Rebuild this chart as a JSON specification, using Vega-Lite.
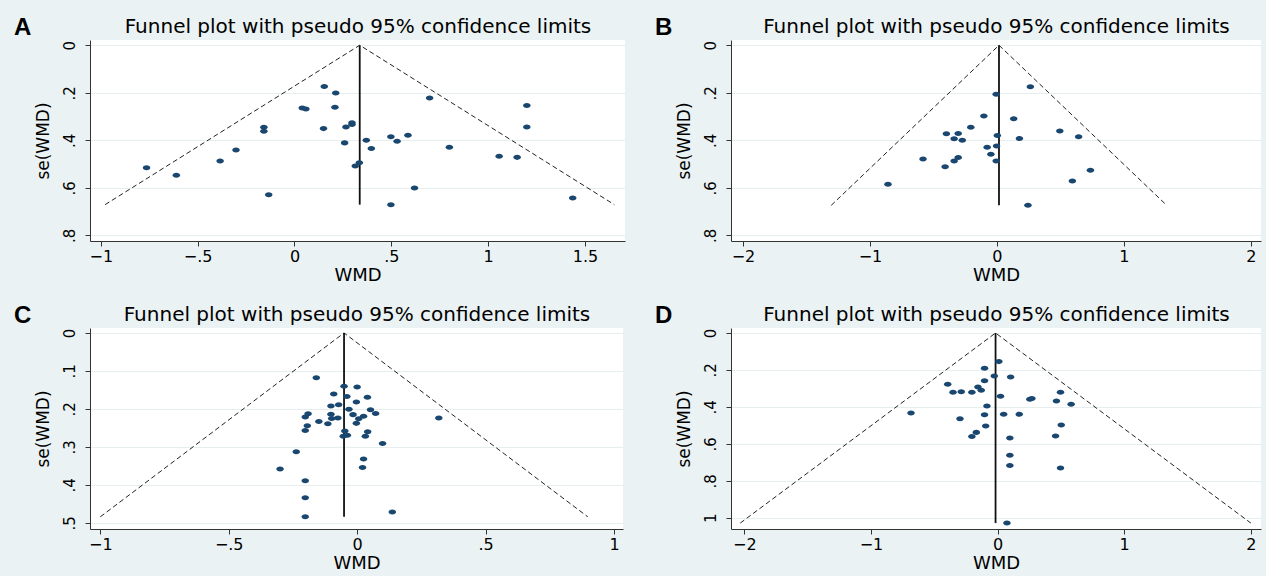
{
  "$schema": "https://vega.github.io/schema/vega-lite/v6.json",
  "background": "#eaf2f3",
  "padding": {"left": 13, "top": 16, "right": 5, "bottom": 5},
  "columns": 2,
  "spacing": {"row": 20, "column": 30},
  "config": {
    "font": "DejaVu Sans",
    "view": {"stroke": null, "fill": "white"},
    "axis": {"domainColor": "#333", "tickColor": "#333", "labelColor": "#000", "titleColor": "#000", "labelFontSize": 15, "titleFontSize": 17, "titleFontWeight": "normal", "tickSize": 5, "gridColor": "#e6eef0", "gridWidth": 1.2},
    "axisX": {"labelPadding": 2, "titlePadding": 2, "labelFontSize": 16},
    "axisY": {"labelPadding": 8, "titlePadding": 10},
    "title": {"fontSize": 24, "fontWeight": "bold", "anchor": "start", "frame": "bounds", "color": "#000", "font": "Liberation Sans"}
  },
  "concat": [
    {
      "width": 535, "height": 201,
      "title": {"text": "A", "dx": -20, "offset": -24},
      "resolve": {"axis": {"x": "independent"}},
      "layer": [
        {
          "data": {"values": [{"wmd": -0.978, "se": 0.671, "o": 1}, {"wmd": 0.337, "se": 0, "o": 2}, {"wmd": 1.652, "se": 0.671, "o": 3}]},
          "mark": {"type": "line", "color": "#222", "strokeWidth": 1, "strokeDash": [5, 3]},
          "encoding": {
            "x": {"field": "wmd", "type": "quantitative", "scale": {"domain": [-1.056, 1.707], "nice": false, "zero": false}, "axis": {"values": [-1, -0.5, 0, 0.5, 1, 1.5], "title": "WMD", "grid": false, "titleFontSize": 18, "labelExpr": "replace(format(datum.value, '~g'), '0.', '.')"}},
            "y": {"field": "se", "type": "quantitative", "title": "se(WMD)", "scale": {"domain": [-0.022, 0.824], "reverse": true, "nice": false, "zero": false}, "axis": {"values": [0, 0.2, 0.4, 0.6, 0.8], "grid": true, "labelAngle": -90, "labelExpr": "replace(format(datum.value, '~g'), '0.', '.')"}},
            "order": {"field": "o", "type": "quantitative"}
          }
        },
        {
          "data": {"values": [{"wmd": 0.337, "se": 0, "se2": 0.671}]},
          "mark": {"type": "rule", "color": "#111", "strokeWidth": 1.8},
          "encoding": {
            "x": {"field": "wmd", "type": "quantitative", "axis": {"orient": "top", "title": "Funnel plot with pseudo 95% confidence limits", "labels": false, "ticks": false, "domain": false, "grid": false, "titleFontSize": 20, "titlePadding": 4}},
            "y": {"field": "se", "type": "quantitative", "title": "se(WMD)"},
            "y2": {"field": "se2"}
          }
        },
        {
          "data": {"values": [
            {"wmd": -0.764, "se": 0.516}, {"wmd": -0.610, "se": 0.547}, {"wmd": -0.384, "se": 0.487}, {"wmd": -0.302, "se": 0.441},
            {"wmd": -0.158, "se": 0.345}, {"wmd": -0.158, "se": 0.362}, {"wmd": -0.133, "se": 0.629}, {"wmd": 0.040, "se": 0.264},
            {"wmd": 0.059, "se": 0.268}, {"wmd": 0.150, "se": 0.351}, {"wmd": 0.154, "se": 0.174}, {"wmd": 0.209, "se": 0.261},
            {"wmd": 0.213, "se": 0.201}, {"wmd": 0.259, "se": 0.411}, {"wmd": 0.266, "se": 0.344}, {"wmd": 0.297, "se": 0.326},
            {"wmd": 0.297, "se": 0.334}, {"wmd": 0.314, "se": 0.508}, {"wmd": 0.335, "se": 0.495}, {"wmd": 0.371, "se": 0.400},
            {"wmd": 0.397, "se": 0.435}, {"wmd": 0.498, "se": 0.385}, {"wmd": 0.498, "se": 0.671}, {"wmd": 0.530, "se": 0.404},
            {"wmd": 0.586, "se": 0.379}, {"wmd": 0.620, "se": 0.601}, {"wmd": 0.698, "se": 0.222}, {"wmd": 0.800, "se": 0.429},
            {"wmd": 1.057, "se": 0.467}, {"wmd": 1.150, "se": 0.472}, {"wmd": 1.200, "se": 0.254}, {"wmd": 1.200, "se": 0.344},
            {"wmd": 1.437, "se": 0.643}
          ]},
          "mark": {"type": "point", "filled": true, "shape": "M-1,0A1,0.67,0,1,0,1,0A1,0.67,0,1,0,-1,0Z", "size": 56, "color": "#1a476f", "opacity": 1},
          "encoding": {
            "x": {"field": "wmd", "type": "quantitative", "axis": null},
            "y": {"field": "se", "type": "quantitative", "title": "se(WMD)"}
          }
        }
      ]
    },
    {
      "width": 530, "height": 201,
      "title": {"text": "B", "dx": -20, "offset": -24},
      "resolve": {"axis": {"x": "independent"}},
      "layer": [
        {
          "data": {"values": [{"wmd": -1.305, "se": 0.674, "o": 1}, {"wmd": 0.016, "se": 0, "o": 2}, {"wmd": 1.337, "se": 0.674, "o": 3}]},
          "mark": {"type": "line", "color": "#222", "strokeWidth": 1, "strokeDash": [5, 3]},
          "encoding": {
            "x": {"field": "wmd", "type": "quantitative", "scale": {"domain": [-2.094, 2.079], "nice": false, "zero": false}, "axis": {"values": [-2, -1, 0, 1, 2], "title": "WMD", "grid": false, "titleFontSize": 18, "labelExpr": "replace(format(datum.value, '~g'), '0.', '.')"}},
            "y": {"field": "se", "type": "quantitative", "title": "se(WMD)", "scale": {"domain": [-0.022, 0.824], "reverse": true, "nice": false, "zero": false}, "axis": {"values": [0, 0.2, 0.4, 0.6, 0.8], "grid": true, "labelAngle": -90, "labelExpr": "replace(format(datum.value, '~g'), '0.', '.')"}},
            "order": {"field": "o", "type": "quantitative"}
          }
        },
        {
          "data": {"values": [{"wmd": 0.016, "se": 0, "se2": 0.674}]},
          "mark": {"type": "rule", "color": "#111", "strokeWidth": 1.8},
          "encoding": {
            "x": {"field": "wmd", "type": "quantitative", "axis": {"orient": "top", "title": "Funnel plot with pseudo 95% confidence limits", "labels": false, "ticks": false, "domain": false, "grid": false, "titleFontSize": 20, "titlePadding": 4}},
            "y": {"field": "se", "type": "quantitative", "title": "se(WMD)"},
            "y2": {"field": "se2"}
          }
        },
        {
          "data": {"values": [
            {"wmd": 0.263, "se": 0.175}, {"wmd": -0.006, "se": 0.206}, {"wmd": -0.103, "se": 0.298}, {"wmd": 0.132, "se": 0.309},
            {"wmd": -0.206, "se": 0.345}, {"wmd": 0.495, "se": 0.361}, {"wmd": -0.398, "se": 0.373}, {"wmd": -0.305, "se": 0.372},
            {"wmd": 0.003, "se": 0.380}, {"wmd": 0.643, "se": 0.385}, {"wmd": -0.337, "se": 0.394}, {"wmd": -0.273, "se": 0.400},
            {"wmd": 0.177, "se": 0.393}, {"wmd": -0.077, "se": 0.429}, {"wmd": -0.003, "se": 0.424}, {"wmd": -0.048, "se": 0.459},
            {"wmd": -0.582, "se": 0.479}, {"wmd": -0.305, "se": 0.473}, {"wmd": -0.337, "se": 0.487}, {"wmd": -0.006, "se": 0.487},
            {"wmd": -0.408, "se": 0.511}, {"wmd": 0.736, "se": 0.526}, {"wmd": 0.594, "se": 0.571}, {"wmd": -0.858, "se": 0.585},
            {"wmd": 0.244, "se": 0.674}
          ]},
          "mark": {"type": "point", "filled": true, "shape": "M-1,0A1,0.67,0,1,0,1,0A1,0.67,0,1,0,-1,0Z", "size": 56, "color": "#1a476f", "opacity": 1},
          "encoding": {
            "x": {"field": "wmd", "type": "quantitative", "axis": null},
            "y": {"field": "se", "type": "quantitative", "title": "se(WMD)"}
          }
        }
      ]
    },
    {
      "width": 533, "height": 201,
      "title": {"text": "C", "dx": -20, "offset": -24},
      "resolve": {"axis": {"x": "independent"}},
      "layer": [
        {
          "data": {"values": [{"wmd": -1.0, "se": 0.484, "o": 1}, {"wmd": -0.051, "se": 0, "o": 2}, {"wmd": 0.898, "se": 0.484, "o": 3}]},
          "mark": {"type": "line", "color": "#222", "strokeWidth": 1, "strokeDash": [5, 3]},
          "encoding": {
            "x": {"field": "wmd", "type": "quantitative", "scale": {"domain": [-1.040, 1.035], "nice": false, "zero": false}, "axis": {"values": [-1, -0.5, 0, 0.5, 1], "title": "WMD", "grid": false, "titleFontSize": 18, "labelExpr": "replace(format(datum.value, '~g'), '0.', '.')"}},
            "y": {"field": "se", "type": "quantitative", "title": "se(WMD)", "scale": {"domain": [-0.013, 0.516], "reverse": true, "nice": false, "zero": false}, "axis": {"values": [0, 0.1, 0.2, 0.3, 0.4, 0.5], "grid": true, "labelAngle": -90, "labelExpr": "replace(format(datum.value, '~g'), '0.', '.')"}},
            "order": {"field": "o", "type": "quantitative"}
          }
        },
        {
          "data": {"values": [{"wmd": -0.051, "se": 0, "se2": 0.484}]},
          "mark": {"type": "rule", "color": "#111", "strokeWidth": 1.8},
          "encoding": {
            "x": {"field": "wmd", "type": "quantitative", "axis": {"orient": "top", "title": "Funnel plot with pseudo 95% confidence limits", "labels": false, "ticks": false, "domain": false, "grid": false, "titleFontSize": 20, "titlePadding": 4}},
            "y": {"field": "se", "type": "quantitative", "title": "se(WMD)"},
            "y2": {"field": "se2"}
          }
        },
        {
          "data": {"values": [
            {"wmd": -0.159, "se": 0.118}, {"wmd": -0.051, "se": 0.140}, {"wmd": 0.0, "se": 0.142}, {"wmd": -0.091, "se": 0.161},
            {"wmd": -0.040, "se": 0.167}, {"wmd": 0.040, "se": 0.169}, {"wmd": -0.003, "se": 0.182}, {"wmd": -0.102, "se": 0.192},
            {"wmd": -0.072, "se": 0.189}, {"wmd": -0.032, "se": 0.201}, {"wmd": 0.052, "se": 0.202}, {"wmd": -0.016, "se": 0.215},
            {"wmd": 0.072, "se": 0.212}, {"wmd": -0.102, "se": 0.214}, {"wmd": 0.025, "se": 0.219}, {"wmd": -0.191, "se": 0.213},
            {"wmd": -0.202, "se": 0.221}, {"wmd": -0.099, "se": 0.225}, {"wmd": -0.075, "se": 0.224}, {"wmd": 0.006, "se": 0.226},
            {"wmd": 0.318, "se": 0.224}, {"wmd": -0.149, "se": 0.233}, {"wmd": -0.003, "se": 0.238}, {"wmd": -0.114, "se": 0.239},
            {"wmd": -0.194, "se": 0.244}, {"wmd": -0.202, "se": 0.257}, {"wmd": -0.048, "se": 0.258}, {"wmd": 0.041, "se": 0.260},
            {"wmd": -0.038, "se": 0.269}, {"wmd": -0.054, "se": 0.272}, {"wmd": 0.032, "se": 0.272}, {"wmd": 0.099, "se": 0.291},
            {"wmd": -0.237, "se": 0.313}, {"wmd": 0.025, "se": 0.332}, {"wmd": 0.021, "se": 0.354}, {"wmd": -0.300, "se": 0.358},
            {"wmd": -0.202, "se": 0.389}, {"wmd": -0.202, "se": 0.434}, {"wmd": 0.137, "se": 0.471}, {"wmd": -0.202, "se": 0.484}
          ]},
          "mark": {"type": "point", "filled": true, "shape": "M-1,0A1,0.67,0,1,0,1,0A1,0.67,0,1,0,-1,0Z", "size": 56, "color": "#1a476f", "opacity": 1},
          "encoding": {
            "x": {"field": "wmd", "type": "quantitative", "axis": null},
            "y": {"field": "se", "type": "quantitative", "title": "se(WMD)"}
          }
        }
      ]
    },
    {
      "width": 530, "height": 201,
      "title": {"text": "D", "dx": -20, "offset": -24},
      "resolve": {"axis": {"x": "independent"}},
      "layer": [
        {
          "data": {"values": [{"wmd": -2.033, "se": 1.029, "o": 1}, {"wmd": -0.016, "se": 0, "o": 2}, {"wmd": 2.001, "se": 1.029, "o": 3}]},
          "mark": {"type": "line", "color": "#222", "strokeWidth": 1, "strokeDash": [5, 3]},
          "encoding": {
            "x": {"field": "wmd", "type": "quantitative", "scale": {"domain": [-2.106, 2.081], "nice": false, "zero": false}, "axis": {"values": [-2, -1, 0, 1, 2], "title": "WMD", "grid": false, "titleFontSize": 18, "labelExpr": "replace(format(datum.value, '~g'), '0.', '.')"}},
            "y": {"field": "se", "type": "quantitative", "title": "se(WMD)", "scale": {"domain": [-0.027, 1.061], "reverse": true, "nice": false, "zero": false}, "axis": {"values": [0, 0.2, 0.4, 0.6, 0.8, 1], "grid": true, "labelAngle": -90, "labelExpr": "replace(format(datum.value, '~g'), '0.', '.')"}},
            "order": {"field": "o", "type": "quantitative"}
          }
        },
        {
          "data": {"values": [{"wmd": -0.016, "se": 0, "se2": 1.029}]},
          "mark": {"type": "rule", "color": "#111", "strokeWidth": 1.8},
          "encoding": {
            "x": {"field": "wmd", "type": "quantitative", "axis": {"orient": "top", "title": "Funnel plot with pseudo 95% confidence limits", "labels": false, "ticks": false, "domain": false, "grid": false, "titleFontSize": 20, "titlePadding": 4}},
            "y": {"field": "se", "type": "quantitative", "title": "se(WMD)"},
            "y2": {"field": "se2"}
          }
        },
        {
          "data": {"values": [
            {"wmd": 0.010, "se": 0.155}, {"wmd": -0.103, "se": 0.191}, {"wmd": -0.026, "se": 0.233}, {"wmd": 0.103, "se": 0.238},
            {"wmd": -0.103, "se": 0.258}, {"wmd": -0.394, "se": 0.278}, {"wmd": -0.155, "se": 0.292}, {"wmd": -0.129, "se": 0.310},
            {"wmd": -0.352, "se": 0.321}, {"wmd": -0.287, "se": 0.318}, {"wmd": -0.203, "se": 0.321}, {"wmd": 0.497, "se": 0.321},
            {"wmd": 0.023, "se": 0.343}, {"wmd": 0.255, "se": 0.359}, {"wmd": 0.271, "se": 0.354}, {"wmd": 0.465, "se": 0.368},
            {"wmd": 0.581, "se": 0.386}, {"wmd": -0.084, "se": 0.395}, {"wmd": -0.684, "se": 0.433}, {"wmd": -0.103, "se": 0.442},
            {"wmd": 0.048, "se": 0.440}, {"wmd": 0.171, "se": 0.440}, {"wmd": -0.297, "se": 0.464}, {"wmd": 0.503, "se": 0.498},
            {"wmd": -0.094, "se": 0.504}, {"wmd": -0.168, "se": 0.538}, {"wmd": -0.203, "se": 0.560}, {"wmd": 0.458, "se": 0.558},
            {"wmd": 0.097, "se": 0.569}, {"wmd": 0.097, "se": 0.662}, {"wmd": 0.097, "se": 0.717}, {"wmd": 0.497, "se": 0.731},
            {"wmd": 0.074, "se": 1.029}
          ]},
          "mark": {"type": "point", "filled": true, "shape": "M-1,0A1,0.67,0,1,0,1,0A1,0.67,0,1,0,-1,0Z", "size": 56, "color": "#1a476f", "opacity": 1},
          "encoding": {
            "x": {"field": "wmd", "type": "quantitative", "axis": null},
            "y": {"field": "se", "type": "quantitative", "title": "se(WMD)"}
          }
        }
      ]
    }
  ]
}
